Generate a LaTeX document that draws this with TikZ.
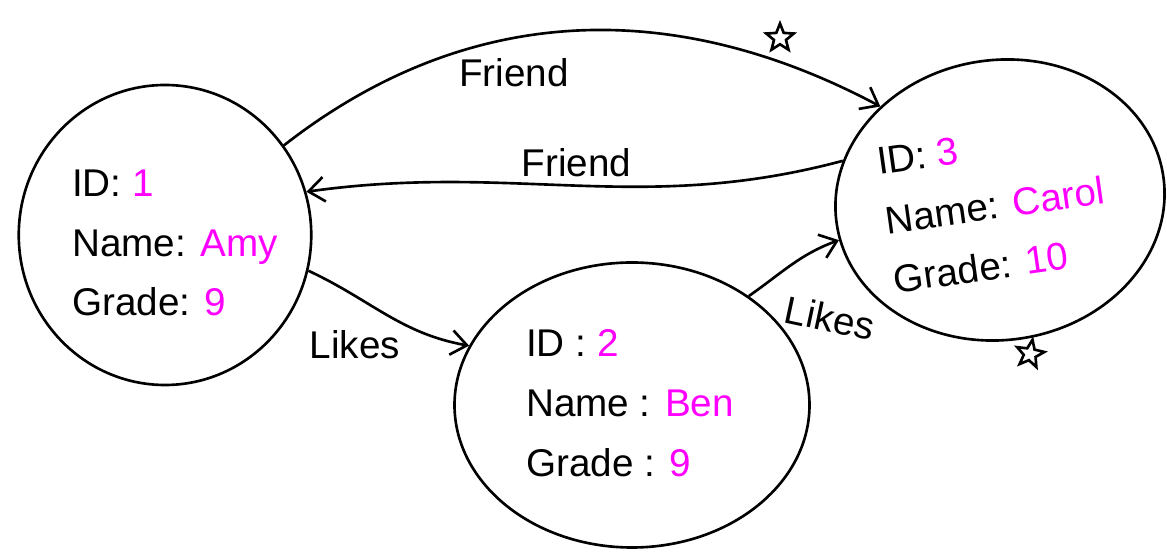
\documentclass[tikz,border=0pt]{standalone}
\usepackage{fontspec}
\setmainfont{Liberation Sans}
\usetikzlibrary{shapes.geometric, arrows.meta, positioning}
\definecolor{valpink}{RGB}{255,0,255}
\newcommand{\val}[1]{\textcolor{valpink}{#1}}

\begin{document}
\begin{tikzpicture}[
    student node/.style={ellipse,draw,line width=1.5pt,inner sep=0pt},
    info text/.style={align=left,inner sep=1pt,font=\fontsize{22}{34}\selectfont},
    edge label/.style={font=\fontsize{22}{26}\selectfont,inner sep=1pt},
    mark star/.style={star,star points=5,star point ratio=2.3,draw,line width=1.5pt,minimum size=0.58cm,inner sep=0pt},
    arrow/.style={-{Straight Barb[length=9pt,width=14pt]},line width=1.5pt}
]
\useasboundingbox (0,0) rectangle (23.34,11.06);

% Students
\node[student node,minimum width=5.85cm,minimum height=6cm] (amy) at (3.3,6.36) {};
\node[student node,minimum width=7.1cm,minimum height=5.7cm] (ben) at (12.64,2.96) {};
\node[student node,minimum width=6.6cm,minimum height=5.6cm,rotate=8] (carol) at (20.0,7.06) {};

\node[info text] (amy text) at (3.5,6.2) {ID: \val{1}\\Name: \val{Amy}\\Grade: \val{9}};
\node[info text] (ben text) at (12.6,3.0) {ID : \val{2}\\Name : \val{Ben}\\Grade : \val{9}};
\node[info text,rotate=8] (carol text) at (19.9,6.95) {ID: \val{3}\\Name: \val{Carol}\\Grade: \val{10}};

% Stars
\node[mark star] (star1) at (15.6,10.3) {};
\node[mark star,rotate=-10] (star2) at (20.6,3.98) {};

% Arrows
\draw[arrow] (amy.37) to[out=38,in=152]
    node[edge label,pos=0.4,below=10pt] (friend1) {Friend} (carol.134);
\draw[arrow] (carol.158) to[out=195,in=8]
    node[edge label,pos=0.5,above=3pt] (friend2) {Friend} (amy.17);
\draw[arrow] (amy.-14) to[out=-25,in=170] (ben.160);
\draw[arrow] (ben.43) to[out=35,in=200] (carol.186);

% Edge labels
\node[edge label] (likes1) at (7.1,4.16) {Likes};
\node[edge label,rotate=-12] (likes2) at (16.6,4.7) {Likes};

\end{tikzpicture}
\end{document}
